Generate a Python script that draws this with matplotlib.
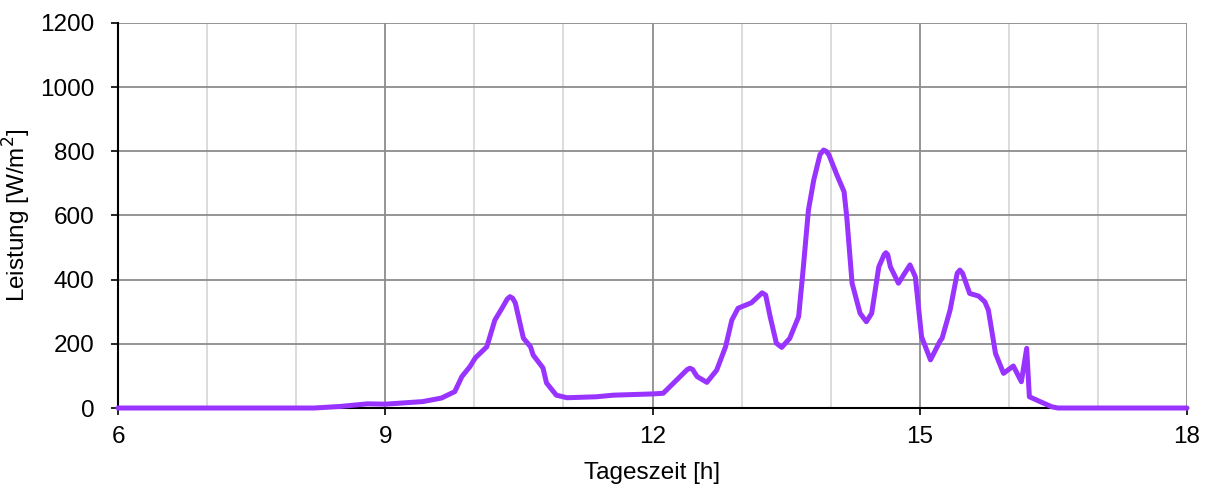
import matplotlib
matplotlib.use("Agg")
import matplotlib.pyplot as plt
from matplotlib.ticker import MultipleLocator

plt.rcParams["font.family"] = ["Liberation Sans", "DejaVu Sans"]

# Tageszeit [h] und Leistung [W/m²]
stunden = [6.0, 8.2, 8.5, 8.8, 9.0, 9.42, 9.63, 9.78, 9.86, 9.95, 10.01, 10.14,
           10.23, 10.31, 10.37, 10.40, 10.43, 10.46, 10.55, 10.63, 10.66, 10.77,
           10.81, 10.92, 11.04, 11.37, 11.56, 12.01, 12.12, 12.31, 12.39, 12.42,
           12.45, 12.50, 12.61, 12.72, 12.82, 12.89, 12.96, 13.11, 13.23, 13.27,
           13.32, 13.39, 13.45, 13.54, 13.64, 13.69, 13.75, 13.81, 13.88, 13.92,
           13.95, 13.98, 14.07, 14.15, 14.18, 14.24, 14.33, 14.40, 14.46, 14.54,
           14.60, 14.62, 14.64, 14.67, 14.76, 14.89, 14.95, 15.02, 15.12, 15.23,
           15.25, 15.34, 15.42, 15.45, 15.48, 15.56, 15.66, 15.73, 15.77, 15.85,
           15.94, 16.05, 16.14, 16.20, 16.23, 16.35, 16.48, 16.55, 18.0]
leistung = [0, 0, 5, 13, 12, 20, 31, 51, 98, 129, 156, 191,
            274, 311, 340, 347, 342, 327, 218, 191, 165, 125,
            78, 40, 32, 35, 40, 44, 46, 98, 120, 124,
            120, 98, 80, 118, 191, 274, 311, 328, 359, 352,
            285, 202, 189, 217, 285, 430, 617, 711, 790, 804,
            800, 789, 726, 674, 596, 389, 295, 269, 295, 440,
            478, 484, 478, 440, 389, 446, 409, 222, 150, 210,
            217, 305, 420, 430, 420, 357, 349, 331, 305, 170,
            108, 131, 82, 186, 35, 20, 4, 0, 0]

fig, ax = plt.subplots(figsize=(12.13, 4.87), dpi=100)
fig.subplots_adjust(left=0.0973, right=0.9786, bottom=0.1622, top=0.9528)

ax.plot(stunden, leistung, color="#9933FF", linewidth=3.6,
        solid_joinstyle="round", solid_capstyle="round", zorder=3, clip_on=False)

ax.set_xlim(6, 18)
ax.set_ylim(0, 1200)
ax.xaxis.set_major_locator(MultipleLocator(3))
ax.xaxis.set_minor_locator(MultipleLocator(1))
ax.yaxis.set_major_locator(MultipleLocator(200))

ax.grid(True, which="major", color="#8c8c8c", linewidth=1.3)
ax.grid(True, which="minor", axis="x", color="#d9d9d9", linewidth=1.3)
ax.set_axisbelow(True)

for side in ["top", "right"]:
    ax.spines[side].set_visible(False)
for side in ["left", "bottom"]:
    ax.spines[side].set_color("black")
    ax.spines[side].set_linewidth(1.5)

ax.tick_params(axis="both", which="major", direction="out", length=5,
               width=1.2, labelsize=17.5, color="black")
ax.tick_params(axis="x", which="minor", length=0)
ax.tick_params(axis="x", pad=8)
ax.tick_params(axis="y", pad=12)

ax.set_xlabel("Tageszeit [h]", fontsize=17.5, labelpad=10)
ax.set_ylabel("Leistung [W/m$^2$]", fontsize=17.5, labelpad=5)

fig.savefig("out.png", dpi=100)
